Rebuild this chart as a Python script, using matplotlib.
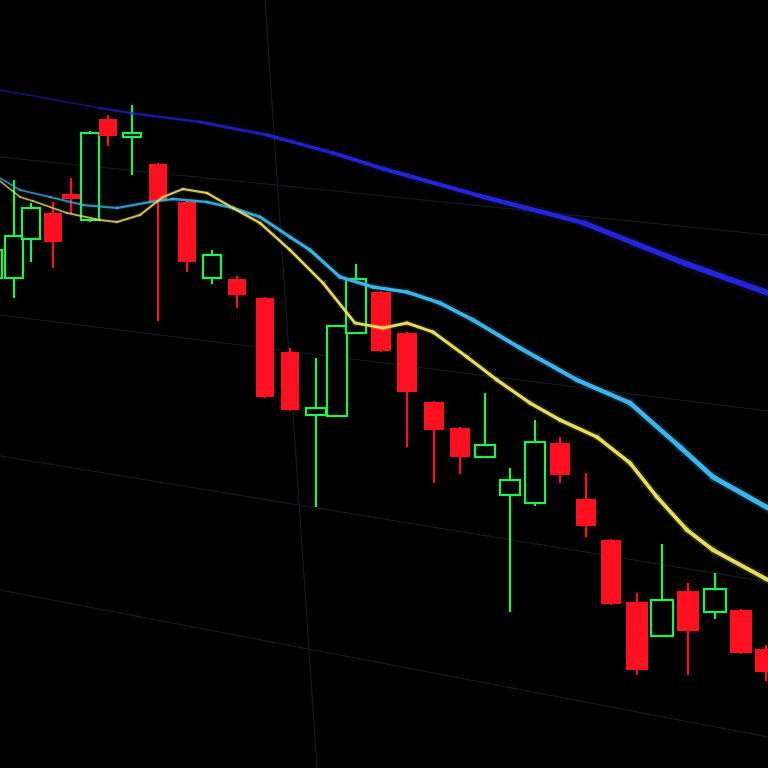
import numpy as np
import matplotlib
matplotlib.use("Agg")
import matplotlib.pyplot as plt
from matplotlib.collections import LineCollection
from matplotlib.colors import to_rgba

# candle screen positions (left to right) and OHLC in price units
pos = [-7, 14, 31, 53, 71, 90, 108, 132, 158, 187, 212, 237, 265, 290, 316, 337, 356,
       381, 407, 434, 460, 485, 510, 535, 560, 586, 611, 637, 662, 688, 715, 741, 766]
opens = [490, 490, 529, 555, 574, 548, 649, 631, 604, 566, 490, 489, 470, 416, 353, 352, 435,
         476, 435, 366, 340, 311, 273, 265, 325, 269, 228, 166, 132, 177, 156, 158, 119]
highs = [528, 588, 565, 566, 590, 637, 653, 663, 605, 567, 518, 492, 471, 420, 410, 443, 504,
         477, 436, 367, 341, 375, 300, 348, 331, 295, 229, 175, 224, 185, 195, 159, 123]
lows = [463, 470, 506, 500, 555, 546, 622, 593, 447, 496, 484, 460, 370, 357, 261, 351, 434,
        416, 321, 285, 294, 310, 156, 262, 285, 231, 163, 93, 131, 93, 149, 114, 87]
closes = [518, 532, 560, 526, 569, 635, 632, 635, 567, 506, 513, 473, 371, 358, 360, 442, 489,
          417, 376, 338, 311, 323, 288, 326, 293, 242, 164, 98, 168, 137, 179, 115, 96]

# moving average lines (screen x, price)
ma_slow_x = [0, 100, 130, 200, 267, 333, 384, 484, 584, 634, 684, 768]
ma_slow_y = [678, 660, 655, 646, 633, 615, 599, 571, 545, 525, 505, 475]

ma_mid_x = [0, 20, 50, 83, 117, 150, 173, 207, 233, 260, 290, 310, 340, 373, 407, 440,
            473, 520, 577, 630, 680, 713, 768]
ma_mid_y = [590, 578, 571, 563, 560, 566, 569, 566, 560, 551, 531, 518, 491, 481, 476, 465,
            448, 420, 388, 365, 321, 291, 260]

ma_fast_x = [0, 20, 33, 67, 100, 117, 140, 163, 183, 207, 233, 260, 290, 323, 355, 383,
             407, 433, 467, 497, 530, 560, 597, 630, 657, 687, 713, 768]
ma_fast_y = [587, 571, 567, 555, 548, 546, 553, 571, 579, 575, 560, 545, 518, 485, 445, 440,
             445, 436, 411, 388, 365, 348, 331, 305, 271, 238, 218, 188]

red = "#ff1020"
green = "#22ee55"

fig = plt.figure(figsize=(7.68, 7.68), dpi=100, facecolor="black")
ax = fig.add_axes([0, 0, 1, 1])
ax.set_facecolor("black")
ax.set_xlim(0, 768)
ax.set_ylim(0, 768)
ax.axis("off")

# faint screen grid
grid = [((265, 768), (317, 0)),
        ((0, 611), (768, 533)),
        ((0, 453), (768, 357)),
        ((0, 312), (768, 186)),
        ((0, 178), (768, 31))]
for (x0, y0), (x1, y1) in grid:
    ax.plot([x0, x1], [y0, y1], color="#0c2129", lw=0.8, zorder=1)


def ma_line(xs, ys, color, w0, w1, a0):
    xs = np.asarray(xs, float)
    ys = np.asarray(ys, float)
    pts = np.column_stack([xs, ys]).reshape(-1, 1, 2)
    segs = np.concatenate([pts[:-1], pts[1:]], axis=1)
    t = xs[:-1] / 768.0
    widths = w0 + (w1 - w0) * t
    rgba = np.array([to_rgba(color)] * len(segs))
    rgba[:, 3] = a0 + (1 - a0) * np.clip(t * 2.5, 0, 1)
    glow = rgba.copy()
    glow[:, 3] *= 0.15
    ax.add_collection(LineCollection(segs, colors=glow, linewidths=widths * 2.0,
                                     capstyle="round", zorder=4))
    ax.add_collection(LineCollection(segs, colors=rgba, linewidths=widths,
                                     capstyle="round", joinstyle="round", zorder=5))


# candles
for x, o, h, l, c in zip(pos, opens, highs, lows, closes):
    w = 17 + 5 * max(x, 0) / 768.0
    lo, hi = min(o, c), max(o, c)
    up = c >= o
    col = green if up else red
    ax.vlines(x, l, h, color=col, lw=1.6, zorder=2)
    if up:
        ax.bar(x, max(hi - lo, 3), width=w, bottom=lo, facecolor="black",
               edgecolor=col, linewidth=1.6, zorder=3)
    else:
        ax.bar(x, max(hi - lo, 3), width=w, bottom=lo, color=col, zorder=3)

ma_line(ma_slow_x, ma_slow_y, "#2424d8", 1.2, 4.5, 0.45)
ma_line(ma_mid_x, ma_mid_y, "#3cb4ea", 1.2, 3.8, 0.7)
ma_line(ma_fast_x, ma_fast_y, "#e8dc5c", 1.1, 3.0, 0.75)

fig.savefig("out.png", dpi=100, facecolor="black")
